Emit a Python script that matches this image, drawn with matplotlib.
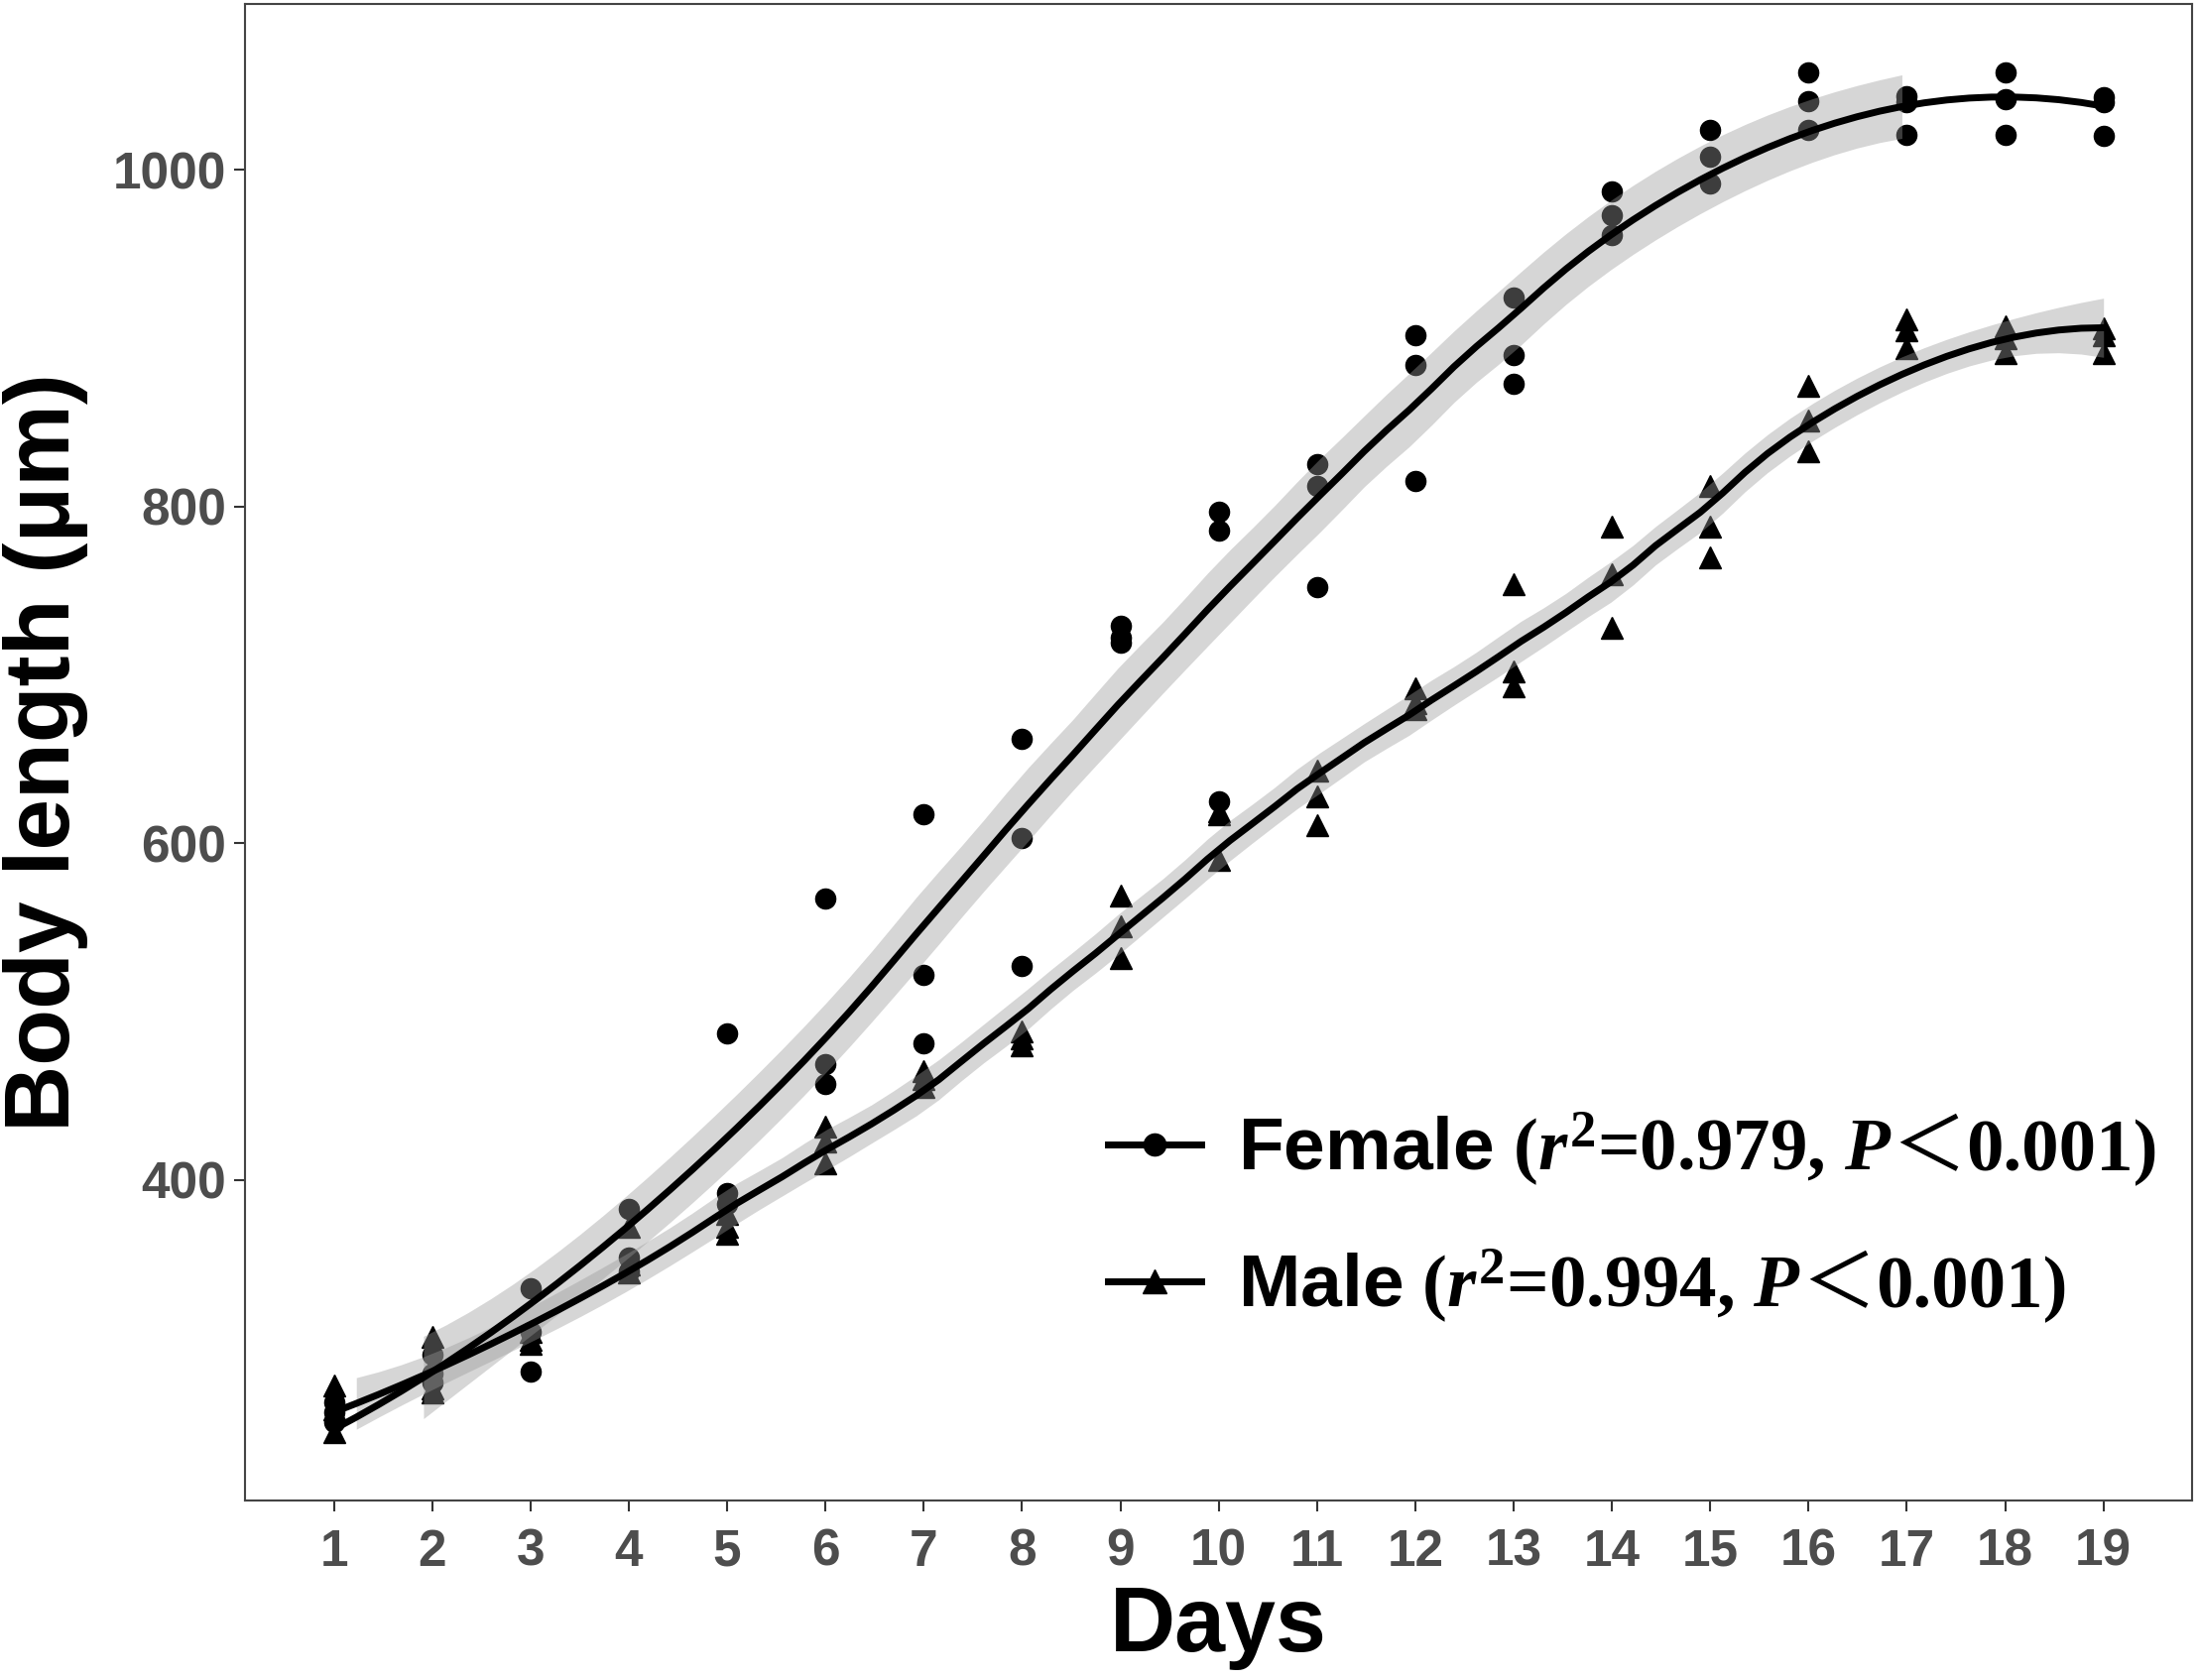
import numpy as np
import matplotlib
matplotlib.use('Agg')
import matplotlib.pyplot as plt
from matplotlib.lines import Line2D
from matplotlib.transforms import IdentityTransform

# Datos (3 individuos por dia)
days = np.arange(1, 20)
female_len = [
    [268, 262, 256], [296, 285, 280], [336, 310, 286], [383, 354, 346],
    [487, 392, 386], [567, 469, 457], [617, 522, 481], [662, 603, 527],
    [729, 722, 719], [797, 786, 625], [825, 812, 752], [902, 884, 815],
    [924, 890, 873], [987, 973, 961], [1024, 1008, 992], [1058, 1041, 1024],
    [1044, 1040, 1021], [1058, 1042, 1021], [1043, 1040, 1020],
]
male_len = [
    [278, 264, 250], [307, 276, 274], [310, 305, 303], [372, 350, 345],
    [380, 372, 368], [432, 423, 410], [465, 460, 455], [488, 484, 480],
    [569, 551, 532], [619, 617, 590], [643, 628, 611], [692, 683, 680],
    [754, 702, 693], [788, 760, 728], [812, 788, 770], [872, 851, 833],
    [911, 905, 894], [907, 900, 891], [906, 902, 891],
]
# etiqueta de leyenda: (inicio, signo, final)
labels = [
    (r'$\mathsf{Female}$ ($\mathit{r}^{2}$=0.979, $\mathit{P}$', '＜', '0.001)'),
    (r'$\mathsf{Male}$ ($\mathit{r}^{2}$=0.994, $\mathit{P}$', '＜', '0.001)'),
]
spans = [0.7, 0.45]

plt.rcParams['mathtext.fontset'] = 'custom'
plt.rcParams['mathtext.rm'] = 'Liberation Serif:bold'
plt.rcParams['mathtext.it'] = 'Liberation Serif:italic:bold'
plt.rcParams['mathtext.bf'] = 'Liberation Serif:bold'
plt.rcParams['mathtext.sf'] = 'Liberation Sans:bold'


def loess(x, y, xg, span=0.75):
    # regresion local cuadratica con pesos tricubicos (como loess de R)
    n = len(x)
    q = int(np.floor(n * span))

    def row(x0):
        d = np.abs(x - x0)
        h = np.sort(d)[q - 1]
        w = np.clip(1 - (d / h) ** 3, 0, None) ** 3
        X = np.column_stack([np.ones(n), x - x0, (x - x0) ** 2])
        A = X.T @ (X * w[:, None])
        return np.linalg.solve(A, (X * w[:, None]).T)[0]

    L = np.array([row(x0) for x0 in x])
    res = y - L @ y
    M = np.eye(n) - L
    d1 = np.trace(M.T @ M)
    sigma = np.sqrt(np.sum(res ** 2) / d1)
    Lg = np.array([row(x0) for x0 in xg])
    fit = Lg @ y
    se = sigma * np.sqrt(np.sum(Lg ** 2, axis=1))
    return fit, fit - 2.01 * se, fit + 2.01 * se


fx = np.repeat(days, 3).astype(float)
fy = np.array(female_len, dtype=float).ravel()
my = np.array(male_len, dtype=float).ravel()
grid = np.linspace(1, 19, 80)

ymin = min(fy.min(), my.min())
ymax = max(fy.max(), my.max())

fig = plt.figure(figsize=(22.17, 16.94), dpi=100)
ax = fig.add_axes([0.1116, 0.1068, 0.8852, 0.8907])

for yy, mk, ms, sp in [(fy, 'o', 14.5, spans[0]), (my, '^', 16, spans[1])]:
    ax.plot(fx, yy, linestyle='none', marker=mk, markersize=ms,
            color='black', zorder=2)
    fit, lo, hi = loess(fx, yy, grid, sp)
    band = (lo >= ymin) & (hi <= ymax)
    ax.fill_between(grid, lo, hi, where=band, color='#999999', alpha=0.4,
                    linewidth=0, zorder=3)
    line = np.where((fit >= ymin) & (fit <= ymax), fit, np.nan)
    ax.plot(grid, line, color='black', linewidth=5, zorder=4)

rng = ymax - ymin
ax.set_ylim(ymin - 0.05 * rng, ymax + 0.05 * rng)
ax.set_xlim(0.1, 19.9)
ax.set_xticks(days)
ax.set_yticks([400, 600, 800, 1000])

for s in ax.spines.values():
    s.set_color('#444444')
    s.set_linewidth(1.5)
ax.tick_params(direction='out', length=8, width=1.5, color='#333333',
               labelsize=37, labelcolor='#4D4D4D')
ax.tick_params(axis='x', pad=12)
ax.tick_params(axis='y', pad=6)
for t in ax.get_xticklabels() + ax.get_yticklabels():
    t.set_fontfamily('Liberation Sans')
    t.set_fontweight('bold')

ax.set_xlabel('Days', fontsize=66, fontweight='bold', family='Liberation Sans',
              labelpad=6)
ax.set_ylabel('Body length (μm)', fontsize=67, fontweight='bold',
              family='Liberation Sans', labelpad=18)

handles = [
    Line2D([], [], color='black', linewidth=5, marker='o', markersize=16),
    Line2D([], [], color='black', linewidth=5, marker='^', markersize=17),
]
leg = ax.legend(handles, [lab[0] for lab in labels], loc='upper left',
                bbox_to_anchor=(0.443, 0.261), frameon=False, borderpad=0,
                borderaxespad=0, handlelength=1.25, handletextpad=0.5,
                labelspacing=0.8,
                prop={'family': 'Liberation Serif', 'weight': 'bold', 'size': 54})

# el signo ＜ de ancho completo se escribe aparte con una fuente CJK
fig.canvas.draw()
rend = fig.canvas.get_renderer()
for txt, lab in zip(leg.get_texts(), labels):
    bb = txt.get_window_extent(rend)
    x0, y0 = txt.get_transform().transform(txt.get_position())
    t1 = fig.text(bb.x1, y0, lab[1], transform=IdentityTransform(),
                  ha='left', va='baseline', fontsize=54,
                  family=['Noto Sans CJK SC', 'DejaVu Sans'])
    bb1 = t1.get_window_extent(rend)
    fig.text(bb1.x1, y0, lab[2], transform=IdentityTransform(),
             ha='left', va='baseline', fontsize=54, fontweight='bold',
             family='Liberation Serif')

fig.savefig('out.png', dpi=100)
